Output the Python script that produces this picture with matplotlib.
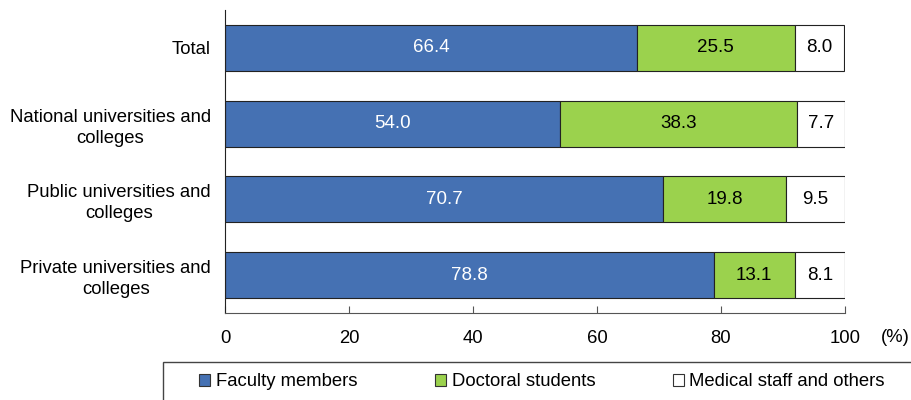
import matplotlib.pyplot as plt
from matplotlib.patches import Rectangle, Patch

categories = ["Total", "National universities and\ncolleges",
              "Public universities and\ncolleges", "Private universities and\ncolleges"]
faculty = [66.4, 54.0, 70.7, 78.8]
doctoral = [25.5, 38.3, 19.8, 13.1]
medical = [8.0, 7.7, 9.5, 8.1]
series_names = ["Faculty members", "Doctoral students", "Medical staff and others"]

colors = ["#4571B3", "#9BD24D", "#FFFFFF"]
text_colors = ["white", "black", "black"]

plt.rcParams['font.family'] = ['Liberation Sans', 'DejaVu Sans']
fs = 13.3

fig = plt.figure(figsize=(9.12, 4.0), dpi=100)
ax = fig.add_axes([225 / 912, 1 - 313 / 400, 620 / 912, 303 / 400])

ypos = list(range(len(categories)))
left = [0] * len(categories)
for vals, col, tc in zip([faculty, doctoral, medical], colors, text_colors):
    bars = ax.barh(ypos, vals, left=left, height=0.61, color=col,
                   edgecolor="#222222", linewidth=0.8)
    for b, v in zip(bars, vals):
        ax.text(b.get_x() + b.get_width() / 2, b.get_y() + b.get_height() / 2,
                f"{v:.1f}", ha="center", va="center", color=tc, fontsize=13.5)
    left = [l + v for l, v in zip(left, vals)]

ax.set_ylim(3.5, -0.5)
ax.set_xlim(0, 100)
ax.set_yticks(ypos)
ax.set_yticklabels(categories, fontsize=fs, multialignment="center", linespacing=1.3)
ax.tick_params(axis="y", length=0, pad=10)
ax.set_xticks([0, 20, 40, 60, 80, 100])
ax.tick_params(axis="x", direction="in", length=5, labelsize=fs, pad=12, color="#555555")
for s in ["top", "right"]:
    ax.spines[s].set_visible(False)
ax.spines["left"].set_color("#222222")
ax.spines["bottom"].set_color("#555555")
fig.text(895 / 912, 1 - 338 / 400, "(%)", fontsize=fs, ha="center", va="center")

# legend box
fig.patches.append(Rectangle((163 / 912, -0.1), 1.0, 0.1 + (400 - 362) / 400,
                             transform=fig.transFigure, fill=False,
                             edgecolor="#444444", linewidth=1.0, clip_on=False))
handles = [Patch(facecolor=c, edgecolor="#333333", linewidth=0.8) for c in colors]
fig.legend(handles, series_names, loc="center", ncol=3, frameon=False,
           bbox_to_anchor=(542 / 912, 1 - 382 / 400), fontsize=fs,
           handlelength=0.6, handleheight=0.6, handletextpad=0.3, columnspacing=4.2)

fig.savefig("out.png", dpi=100)
